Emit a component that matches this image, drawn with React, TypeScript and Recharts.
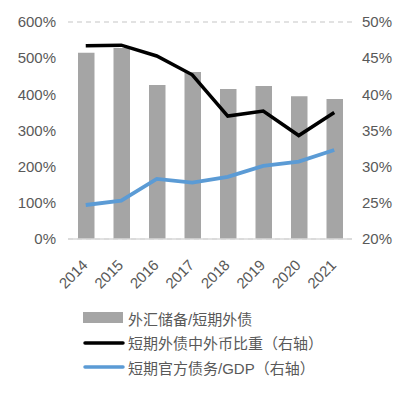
import { ComposedChart, Bar, Line, XAxis, YAxis, CartesianGrid, Legend } from 'recharts'

// 年份
const years = ['2014', '2015', '2016', '2017', '2018', '2019', '2020', '2021']
// 外汇储备/短期外债 (左轴, %)
const reserveRatio = [515, 528, 426, 462, 415, 423, 395, 387]
// 短期外债中外币比重 (右轴, %)
const fxShare = [46.7, 46.8, 45.3, 42.7, 37.0, 37.7, 34.3, 37.5]
// 短期官方债务/GDP (右轴, %)
const govDebtGdp = [24.7, 25.3, 28.3, 27.8, 28.6, 30.1, 30.7, 32.3]

const leftTicks = [0, 100, 200, 300, 400, 500, 600]
const rightTicks = [20, 25, 30, 35, 40, 45, 50]

const data = years.map((y, i) => ({
  year: y,
  reserve: reserveRatio[i],
  fx: fxShare[i],
  gov: govDebtGdp[i],
}))

const FONT = '"Liberation Sans", Arial, "Noto Sans CJK SC", sans-serif'
const TEXT = '#595959'
const TICK = { fontSize: 15, fill: TEXT, fontFamily: FONT }

const YearTick = (props: any) => {
  const { x, y, payload } = props
  const tx = x + 3
  const ty = y + 19
  return (
    <text
      x={tx}
      y={ty}
      transform={`rotate(-45 ${tx} ${ty})`}
      textAnchor="end"
      fontSize={15}
      fill={TEXT}
      fontFamily={FONT}
    >
      {payload.value}
    </text>
  )
}

const LEGEND_ITEMS = [
  { name: '外汇储备/短期外债', color: '#a5a5a5', kind: 'bar' },
  { name: '短期外债中外币比重（右轴）', color: '#000000', kind: 'line' },
  { name: '短期官方债务/GDP（右轴）', color: '#5b9bd5', kind: 'line' },
]

const renderLegend = () => (
  <div style={{ fontFamily: FONT, fontSize: 15, color: TEXT }}>
    {LEGEND_ITEMS.map((it) => (
      <div key={it.name} style={{ display: 'flex', alignItems: 'center', height: 24.5 }}>
        <svg width={45} height={14}>
          {it.kind === 'bar'
            ? <rect x={0} y={1} width={40} height={11} fill={it.color} />
            : <line x1={2} y1={7} x2={40} y2={7} stroke={it.color} strokeWidth={3.5} strokeLinecap="round" />}
        </svg>
        <span>{it.name}</span>
      </div>
    ))}
  </div>
)

export default function App() {
  return (
    <div style={{ position: 'absolute', left: 0, top: 0, background: '#fff' }}>
      <ComposedChart
        width={410}
        height={396}
        data={data}
        margin={{ top: 22, right: 0, left: 0, bottom: 100 }}
      >
        <CartesianGrid vertical={false} stroke="#d9d9d9" strokeDasharray="5 4" strokeWidth={1.5} />
        <XAxis
          dataKey="year"
          height={57}
          tick={<YearTick />}
          tickLine={false}
          axisLine={{ stroke: '#d9d9d9', strokeWidth: 1.5 }}
          interval={0}
        />
        <YAxis
          yAxisId="left"
          width={68}
          domain={[0, 600]}
          ticks={leftTicks}
          tickFormatter={(v) => `${v}%`}
          tick={TICK}
          tickLine={false}
          tickMargin={6}
          axisLine={false}
        />
        <YAxis
          yAxisId="right"
          orientation="right"
          width={58}
          domain={[20, 50]}
          ticks={rightTicks}
          tickFormatter={(v) => `${v}%`}
          tick={TICK}
          tickLine={false}
          tickMargin={4}
          axisLine={false}
        />
        <Legend
          layout="vertical"
          align="center"
          verticalAlign="middle"
          content={renderLegend}
          wrapperStyle={{ top: 306, left: 83, width: 320 }}
        />
        <Bar yAxisId="left" dataKey="reserve" name="外汇储备/短期外债" fill="#a5a5a5" barSize={16.5} isAnimationActive={false} />
        <Line yAxisId="right" dataKey="fx" name="短期外债中外币比重（右轴）" stroke="#000000" strokeWidth={3.5}
          dot={false} type="linear" isAnimationActive={false} />
        <Line yAxisId="right" dataKey="gov" name="短期官方债务/GDP（右轴）" stroke="#5b9bd5" strokeWidth={3.8}
          dot={false} type="linear" isAnimationActive={false} />
      </ComposedChart>
    </div>
  )
}
